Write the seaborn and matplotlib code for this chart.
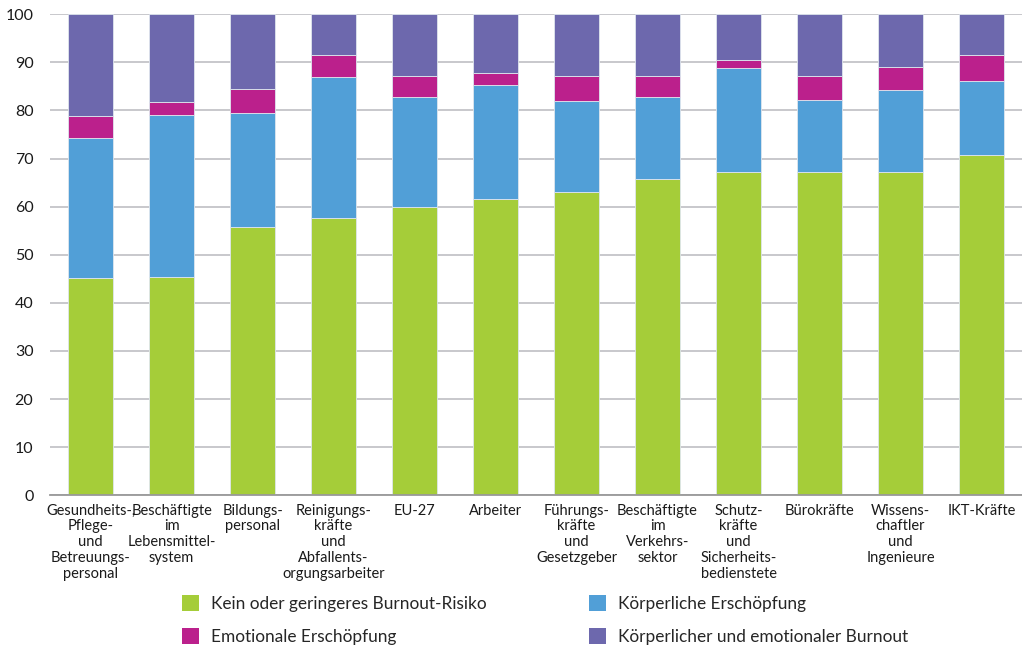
import matplotlib
matplotlib.use("Agg")
import matplotlib.pyplot as plt
from matplotlib.patches import Patch
import numpy as np
import pandas as pd
import seaborn as sns

categories = [
    "Gesundheits-,\nPflege-\nund\nBetreuungs-\npersonal",
    "Beschäftigte\nim\nLebensmittel-\nsystem",
    "Bildungs-\npersonal",
    "Reinigungs-\nkräfte\nund\nAbfallents-\norgungsarbeiter",
    "EU-27",
    "Arbeiter",
    "Führungs-\nkräfte\nund\nGesetzgeber",
    "Beschäftigte\nim\nVerkehrs-\nsektor",
    "Schutz-\nkräfte\nund\nSicherheits-\nbedienstete",
    "Bürokräfte",
    "Wissens-\nchaftler\nund\nIngenieure",
    "IKT-Kräfte",
]

kein_risiko = [45.2, 45.3, 55.7, 57.6, 59.9, 61.5, 63.0, 65.7, 67.1, 67.2, 67.3, 70.7]
koerperlich = [29.0, 33.8, 23.7, 29.4, 22.8, 23.8, 18.9, 17.1, 21.8, 15.0, 17.0, 15.4]
emotional = [4.7, 2.6, 5.0, 4.5, 4.5, 2.5, 5.3, 4.4, 1.5, 5.0, 4.8, 5.4]
burnout = [21.1, 18.3, 15.6, 8.5, 12.8, 12.2, 12.8, 12.8, 9.6, 12.8, 10.9, 8.5]

series_names = [
    "Kein oder geringeres Burnout-Risiko",
    "Körperliche Erschöpfung",
    "Emotionale Erschöpfung",
    "Körperlicher und emotionaler Burnout",
]
series_values = [kein_risiko, koerperlich, emotional, burnout]
colors = ["#a5cd39", "#519fd7", "#bb208c", "#6d68ad"]

sns.set_theme(style="white")
plt.rcParams["font.family"] = ["Lato", "DejaVu Sans"]

fig = plt.figure(figsize=(10.22, 6.49), dpi=100)
ax = fig.add_axes([0.049, 0.237, 0.951, 0.741])

bottom = np.zeros(len(categories))
for name, vals, col in zip(series_names, series_values, colors):
    df = pd.DataFrame({"Kategorie": categories, "Wert": vals})
    sns.barplot(data=df, x="Kategorie", y="Wert", order=categories,
                color=col, width=0.555, bottom=bottom, ax=ax,
                edgecolor="#dfe6ee", linewidth=0.6, saturation=1)
    bottom = bottom + np.array(vals)

ax.set_ylim(0, 100)
ax.set_xlim(-0.5, len(categories) - 0.5)
ax.set_yticks(range(0, 101, 10))
ax.yaxis.grid(True, color="#c4c4c8", linewidth=1.3)
ax.set_axisbelow(True)
for s in ["left", "right", "top"]:
    ax.spines[s].set_visible(False)
ax.spines["bottom"].set_color("#999999")
ax.spines["bottom"].set_linewidth(1.3)
ax.set_xlabel("")
ax.set_ylabel("")
ax.tick_params(axis="both", length=0, colors="#1a1a1a")
ax.tick_params(axis="y", pad=12, labelsize=11.5)
ax.tick_params(axis="x", pad=6, labelsize=10.5)
for lbl in ax.get_xticklabels():
    lbl.set_linespacing(1.17)

handles = [Patch(facecolor=c, edgecolor="none") for c in colors]
order = [0, 2, 1, 3]
fig.legend([handles[i] for i in order], [series_names[i] for i in order],
           ncol=2, loc="center left", bbox_to_anchor=(0.163, 0.0447),
           frameon=False, fontsize=12.4, handlelength=1.0, handleheight=1.0,
           handletextpad=0.7, columnspacing=5.9, labelspacing=0.95)

fig.savefig("out.png", dpi=100)
